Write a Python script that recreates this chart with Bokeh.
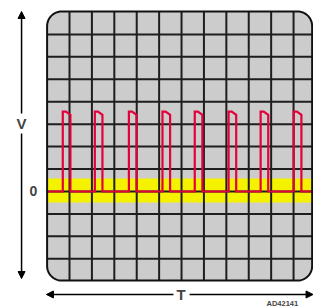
import numpy as np
from bokeh.plotting import figure
from bokeh.models import Range1d, Label, Arrow, NormalHead
from bokeh.embed import file_html
from bokeh.resources import INLINE

# ---- data (grid divisions) ----
pulse_start = [0.70, 2.13, 3.65, 5.15, 6.59, 8.10, 9.53, 11.01]
pulse_width = 0.34
pulse_flat = 0.14
pulse_high = 3.56
pulse_droop = 3.42
baseline = 0.0
band_low, band_high = -0.49, 0.58
screen_left, screen_right = 0.0, 11.83
screen_bottom, screen_top = -3.97, 8.02
vgrid = list(range(1, 12))
hgrid = list(range(-3, 8))

p = figure(width=313, height=307, output_backend="svg", toolbar_location=None,
           x_range=Range1d(-2.08, 11.89), y_range=Range1d(-5.17, 8.51),
           x_axis_location=None, y_axis_location=None, min_border=0)
p.outline_line_color = None
p.xgrid.visible = False
p.ygrid.visible = False
p.background_fill_color = "white"
p.border_fill_color = "white"


def rounded_rect(l, r, b, t, rad, n=14):
    xs, ys = [], []
    corners = [(r - rad, t - rad, 0, 90), (l + rad, t - rad, 90, 180),
               (l + rad, b + rad, 180, 270), (r - rad, b + rad, 270, 360)]
    for cx, cy, a0, a1 in corners:
        a = np.radians(np.linspace(a0, a1, n))
        xs += list(cx + rad * np.cos(a))
        ys += list(cy + rad * np.sin(a))
    return xs, ys


sx, sy = rounded_rect(screen_left, screen_right, screen_bottom, screen_top, 0.65)
p.patch(sx, sy, fill_color="#cccccc", line_color=None)

# yellow zero band
p.quad(left=[screen_left], right=[screen_right], bottom=[band_low], top=[band_high],
       fill_color="#f5f200", line_color=None)

# grid
p.segment(x0=vgrid, x1=vgrid, y0=[screen_bottom] * len(vgrid), y1=[screen_top] * len(vgrid),
          line_color="#1e1e1e", line_width=2)
p.segment(x0=[screen_left] * len(hgrid), x1=[screen_right] * len(hgrid), y0=hgrid, y1=hgrid,
          line_color="#1e1e1e", line_width=2)

# trace
tx, ty = [screen_left], [baseline]
for s in pulse_start:
    tx += [s, s, s + pulse_flat, s + pulse_width, s + pulse_width]
    ty += [baseline, pulse_high, pulse_high, pulse_droop, baseline]
tx.append(screen_right)
ty.append(baseline)
p.line(tx, ty, line_color="#e3003b", line_width=2.2, line_join="miter")

# screen border
p.patch(sx, sy, fill_color=None, line_color="#111111", line_width=2)

# axis arrows
vx = -1.14
hy = -4.59
for (x0, y0, x1, y1) in [(vx, 3.47, vx, 8.02), (vx, 2.58, vx, -3.88),
                         (5.64, hy, -0.03, hy), (6.36, hy, 11.87, hy)]:
    p.add_layout(Arrow(end=NormalHead(size=7, fill_color="black", line_color="black", line_width=1),
                       x_start=x0, y_start=y0, x_end=x1, y_end=y1,
                       line_color="black", line_width=1.5))

font = "Liberation Sans"
p.add_layout(Label(x=vx, y=3.02, text="V", text_font=font, text_font_style="bold",
                   text_font_size="15px", text_align="center", text_baseline="middle"))
p.add_layout(Label(x=-0.61, y=0.04, text="0", text_font=font, text_font_style="bold",
                   text_font_size="14px", text_align="center", text_baseline="middle"))
p.add_layout(Label(x=5.98, y=hy, text="T", text_font=font, text_font_style="bold",
                   text_font_size="15px", text_align="center", text_baseline="middle"))
p.add_layout(Label(x=10.5, y=-4.99, text="AD42141", text_font=font, text_font_style="bold",
                   text_font_size="7.5px", text_align="center", text_baseline="middle"))

open("out.html", "w").write(file_html(p, INLINE))
